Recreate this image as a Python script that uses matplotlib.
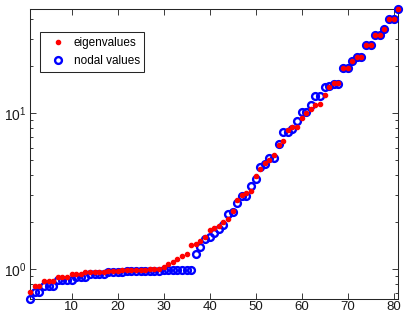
import numpy as np
import matplotlib
matplotlib.use("Agg")
import matplotlib.pyplot as plt

plt.rcParams["font.family"] = ["Liberation Sans", "DejaVu Sans"]
plt.rcParams["mathtext.fontset"] = "custom"
plt.rcParams["mathtext.rm"] = "Liberation Sans"

RED, BLUE, EDGE = "#ff0000", "#0000ff", "#262626"

# values, index 1..81
eigenvalues = [
    0.715, 0.778, 0.778, 0.84, 0.84, 0.84, 0.884, 0.884, 0.884, 0.935,
    0.935, 0.935, 0.955, 0.955, 0.955, 0.96, 0.96, 0.97, 0.97, 0.975,
    0.98, 0.985, 0.985, 0.99, 0.99, 0.99, 0.995, 0.995, 1.0, 1.035,
    1.077, 1.104, 1.154, 1.21, 1.24, 1.426, 1.44, 1.515, 1.61, 1.77,
    1.84, 1.89, 2.01, 2.08, 2.35, 2.75, 2.98, 3.06, 3.15, 3.95,
    4.4, 4.8, 5.02, 5.38, 6.2, 6.61, 7.77, 8.17, 8.17, 9.23,
    10.04, 10.56, 11.2, 11.5, 13.0, 14.7, 15.5, 15.5, 19.5, 19.5,
    21.6, 22.7, 22.7, 27.3, 27.3, 31.6, 31.6, 34.6, 40.0, 40.0,
    46.4,
]
nodal_values = [
    0.645, 0.715, 0.715, 0.778, 0.778, 0.778, 0.845, 0.845, 0.845, 0.845,
    0.892, 0.892, 0.892, 0.925, 0.925, 0.925, 0.925, 0.95, 0.95, 0.95,
    0.95, 0.965, 0.965, 0.965, 0.965, 0.975, 0.975, 0.975, 0.975, 0.985,
    0.985, 0.985, 0.985, 0.985, 0.985, 0.985, 1.248, 1.39, 1.55, 1.6,
    1.7, 1.8, 1.91, 2.245, 2.31, 2.64, 2.94, 2.94, 3.38, 3.76,
    4.5, 4.7, 5.12, 5.12, 6.3, 7.5, 7.6, 7.86, 8.9, 10.1,
    10.1, 11.26, 12.8, 12.8, 14.7, 14.9, 15.36, 15.36, 19.5, 19.5,
    21.6, 22.7, 22.7, 27.3, 27.3, 31.6, 31.6, 34.6, 40.0, 40.0,
    46.4,
]
index = np.arange(1, len(eigenvalues) + 1)

fig = plt.figure(figsize=(4.11, 3.16), dpi=100)
ax = fig.add_axes([0.0737, 0.0547, 0.8953, 0.9168])

ax.plot(index, nodal_values, "o", ms=4.9, mfc="none", mec=BLUE, mew=1.7,
        clip_on=False, zorder=3, label="nodal values")
ax.plot(index, eigenvalues, ".", ms=6, color=RED, clip_on=False, zorder=4,
        label="eigenvalues")

ax.set_yscale("log")
ax.set_xlim(1, 81)
ax.set_ylim(0.645, 46.4)
ax.set_xticks(range(10, 81, 10))

ax.tick_params(which="both", direction="in", top=True, right=True,
               labelsize=9.5, colors="#1a1a1a", width=0.6)
ax.tick_params(axis="x", pad=2)
ax.tick_params(axis="y", pad=3, labelsize=10)
ax.tick_params(which="major", length=4)
ax.tick_params(which="minor", length=2.5)
for s in ax.spines.values():
    s.set_color(EDGE)
    s.set_linewidth(0.75)

h, l = ax.get_legend_handles_labels()
leg = ax.legend(h[::-1], l[::-1], loc="upper left",
                bbox_to_anchor=(0.026, 0.92), borderaxespad=0,
                fontsize=8.5, fancybox=False, framealpha=1, edgecolor=EDGE,
                borderpad=0.38, labelspacing=0.55, handlelength=2.3,
                handletextpad=0.2)
leg.get_frame().set_linewidth(0.75)

fig.savefig("out.png", dpi=100, facecolor="white")
